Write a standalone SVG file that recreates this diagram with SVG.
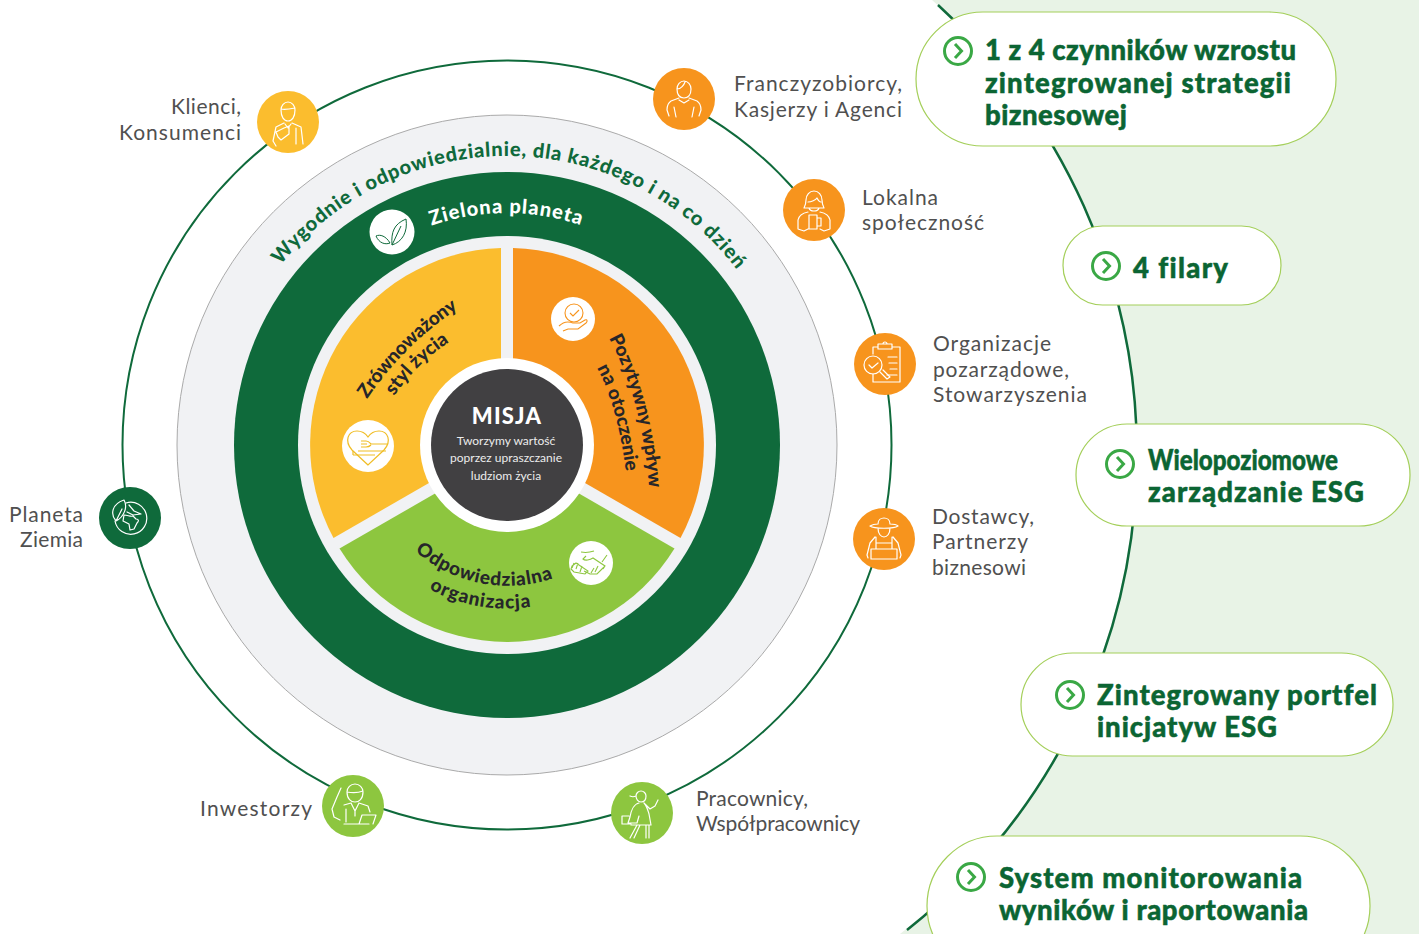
<svg xmlns="http://www.w3.org/2000/svg" width="1419" height="934" viewBox="0 0 1419 934">
<style>
text{font-variant-ligatures:none}
.lab{font-family:"Lato","Liberation Sans",sans-serif;font-size:21px;fill:#505050}
.h{font-family:"Lato","Liberation Sans",sans-serif;font-weight:900;font-size:27.5px;fill:#0b6533;stroke:#0b6533;stroke-width:.5}
.pill{fill:#fff;stroke:#a4cf5a;stroke-width:1.2}
.ar{fill:none;stroke:#3aa845;stroke-width:3}
.ic{fill:none;stroke:#fff;stroke-width:1.2;stroke-linecap:round;stroke-linejoin:round}
.icg{fill:none;stroke:#0f6a3b;stroke-width:1}
.seg{font-family:"Lato","Liberation Sans",sans-serif;font-weight:900;font-size:19px;fill:#26262a}
.yel{fill:#fbbd2e}.ora{fill:#f7941d}.gre{fill:#8dc63f}.dk{fill:#0f6a3b}
</style>
<defs>
<g id="chev"><circle r="13.5" class="ar"/><path d="M-3,-7 L3.5,0 L-3,7" class="ar"/></g>
<path id="p1" d="M280.8,265.1 A289,289 0 0 1 757.3,300.5"/>
<path id="p2" d="M427.7,227 A232,232 0 0 1 605,235"/>
<path id="p3" d="M367,399 Q403,346 456,310"/>
<path id="p4" d="M394,396 Q418,362 451,341"/>
<path id="p5" d="M609,338 Q642,400 649,486"/>
<path id="p6" d="M597,368 Q620,410 628,490"/>
<path id="p7" d="M415,551 A140,140 0 0 0 566,573"/>
<path id="p8" d="M429,589 A163,163 0 0 0 540,605"/>
</defs>
<rect width="1419" height="934" fill="#fff"/>
<path d="M932,0 A607,607 0 0 1 900,934 L1419,934 L1419,0 Z" fill="#e8f3e6"/>
<g id="connectors" fill="none" stroke="#0f6a3b" stroke-width="2">
<circle cx="507" cy="445" r="384.5"/>
<path d="M938,5 A607,607 0 0 1 907,930" stroke-width="2.5"/>
</g>
<g id="rings">
<circle cx="507" cy="445" r="330" fill="#f1f2f4" stroke="#aaa" stroke-width="1"/>
<circle cx="507" cy="445" r="273" class="dk"/>
<circle cx="507" cy="445" r="209" fill="#f1f2f4"/>
</g>
<g id="arc-labels" font-family="Lato,'Liberation Sans',sans-serif" font-weight="900">
<text font-size="20" fill="#0f6a3b" letter-spacing="0.8"><textPath href="#p1">Wygodnie i odpowiedzialnie, dla każdego i na co dzień</textPath></text>
<text font-size="20" fill="#fff" letter-spacing="1"><textPath href="#p2" startOffset="4">Zielona planeta</textPath></text>
</g>
<g id="seg-yellow">
<path class="yel" d="M501,441.5 L501,248 A197,197 0 0 0 333.5,538 Z"/>
<text class="seg" letter-spacing="-.2"><textPath href="#p3">Zrównoważony</textPath></text>
<text class="seg"><textPath href="#p4">styl życia</textPath></text>
<circle cx="368" cy="446" r="26" fill="#fff"/>
<g fill="none" stroke="#f0bd25" stroke-width="1.2"><path d="M368,465 L352,450 C344,441 348,431 357,431 C362,431 366,434 368,437 C370,434 374,431 379,431 C388,431 392,441 384,450 Z"/><path d="M361,441 h5 c3,0 4,2 5,3 h16 M361,444 h6 M361,447 h5 c3,0 4,-1 5,-2 M358,451 h28 M353,455 h22 M353,451 v4"/></g>
</g>
<g id="seg-orange">
<path class="ora" d="M513,441.5 L513,248 A197,197 0 0 1 680.5,538 Z"/>
<text class="seg"><textPath href="#p5">Pozytywny wpływ</textPath></text>
<text class="seg"><textPath href="#p6">na otoczenie</textPath></text>
<circle cx="573" cy="319" r="22" fill="#fff"/>
<g fill="none" stroke="#f7941d" stroke-width="1.1"><circle cx="574" cy="313" r="9"/><path d="M570,313 l3,3 6,-6 M559,326 c5,-5 9,-5 14,-3 h7 l5,-3 c2,-1 3,1 1,3 l-8,6 h-10 l-5,2"/></g>
</g>
<g id="seg-green">
<path class="gre" d="M507,452 L339.5,548.6 A197,197 0 0 0 674.5,548.6 Z"/>
<text class="seg" letter-spacing=".7"><textPath href="#p7">Odpowiedzialna</textPath></text>
<text class="seg" letter-spacing=".9"><textPath href="#p8">organizacja</textPath></text>
<circle cx="591" cy="563" r="22" fill="#fff"/>
<g fill="none" stroke="#8dc63f" stroke-width="1.1"><path d="M581,552 c5,1 10,0 13,-1 M586,556 l-3,3 c2,2 7,1 10,-1 l12,8 -2,3 M607,555 l-5,7 M604,567 l-7,7 -7,0 -6,-3 M572,566 l4,-3 12,8 -3,3 -11,-2 -3,-3 Z M574,563 l-2,5 M578,563 l-2,6 M582,566 l-2,6 M594,568 l-3,5 M598,566 l-3,6"/></g>
</g>
<g id="mission">
<circle cx="507" cy="445" r="87" fill="#fff"/>
<circle cx="507" cy="445" r="76" fill="#414042"/>
<g text-anchor="middle" font-family="Lato,'Liberation Sans',sans-serif" fill="#ececec">
<text x="507" y="424" font-size="22" font-weight="900" fill="#fff" letter-spacing="1.2">MISJA</text>
<text x="506" y="445" font-size="12">Tworzymy wartość</text>
<text x="506" y="462" font-size="12">poprzez upraszczanie</text>
<text x="506" y="480" font-size="12">ludziom życia</text>
</g>
</g>
<g id="leaf"><circle cx="392" cy="232" r="22.5" fill="#fff"/><g class="icg"><path d="M392,245 C391,232 394,224 406,219 C408,232 402,242 392,245 Z M392,245 L401,226 M390,243 C386,236 380,234 376,236 C379,243 385,245 390,243 Z"/></g></g>
<g id="n-klienci" transform="translate(288,122)"><circle r="31" class="yel"/><g class="ic"><path d="M-7,-12 a7,8 0 0 1 14,0 c0,7 -3,11 -7,11 s-7,-4 -7,-11 Z M-7,-13 c4,1 9,0 14,-1 M-4,1 l-8,4 -3,14 3,5 M4,1 l9,4 2,17 M8,6 v16 M-12,10 l8,-4 5,-2 v8 l-8,6 -3,-3 Z M-3,2 l3,4 3,-4"/></g></g>
<g id="n-franczyza" transform="translate(684,99)"><circle r="31" class="ora"/><g class="ic"><path d="M-7,-10 a7,8 0 0 1 14,0 c0,6 -3,9 -7,9 s-7,-3 -7,-9 Z M-7,-10 c4,0 7,-4 8,-7 M-5,-1 l-8,3 c-3,2 -4,6 -4,9 l2,6 M5,-1 l8,3 c3,2 4,6 4,9 l-2,6 M-5,1 l5,3 5,-3 M-10,8 l2,10 M10,8 l-2,10"/></g></g>
<g id="n-lokalna" transform="translate(814,210)"><circle r="31" class="ora"/><g class="ic"><path d="M-8,-10 a8,9 0 0 1 16,0 c0,4 1,6 2,8 h-20 c1,-2 2,-4 2,-8 Z M-6,-8 c3,0 8,-2 9,-4 c1,2 3,4 4,4 M-5,-2 c1,4 9,4 10,0 M-6,2 c-5,1 -9,3 -10,8 l0,9 6,2 4,-2 M6,2 c5,1 9,3 10,8 v9 l-6,2 -4,-2 M-5,5 h8 v14 h-8 Z M3,8 h4 v8 h-4"/></g></g>
<g id="n-organizacje" transform="translate(885,364)"><circle r="31" class="ora"/><g class="ic"><path d="M-12,-10 v-7 h5 M7,-17 h8 v35 h-27 v-8 M-7,-20 h14 v5 h-14 Z M-2,-20 a2,2 0 0 1 4,0 M3,-7 h9 M4,-1 h8 M5,5 h7 M2,11 h10"/><circle cx="-12" cy="1" r="9"/><path d="M-16,1 l3,3 6,-5 M-5,8 l7,7 3,-2 -7,-7"/></g></g>
<g id="n-dostawcy" transform="translate(884,539)"><circle r="31" class="ora"/><g class="ic"><path d="M-14,-13 c3,-2 6,-2 8,-2 c0,-8 12,-8 12,0 c3,0 6,0 8,2 c-4,3 -24,3 -28,0 Z M-6,-11 c0,12 12,12 12,0 M-9,-2 l-5,6 -3,12 1,3 M9,-2 l5,6 3,12 -1,3 M-8,-2 v12 M8,-2 v12 M-8,4 h16 M-13,10 h26 v10 h-26 Z"/></g></g>
<g id="n-planeta" transform="translate(130,518)"><circle r="31" class="dk"/><g class="ic"><path d="M-4,-15 A16,16 0 1 1 -15,3"/><path d="M-1,-13 l5,6 7,3 -8,1 -6,-3 M-6,-3 c4,0 6,2 9,1 l3,3 c3,0 3,2 1,4 l-3,6 -4,1 -1,-6 -6,-3 Z"/><path d="M-14,3 C-20,-4 -18,-14 -6,-18 C-2,-11 -6,-1 -14,3 Z M-14,3 L-8,-9"/></g></g>
<g id="n-inwestorzy" transform="translate(353,806)"><circle r="31" class="gre"/><g class="ic"><path d="M-6,-14 a8,8 0 0 1 16,0 c0,7 -4,10 -8,10 s-8,-3 -8,-10 Z M-6,-14 c5,1 11,1 16,-1 M-12,-18 l-4,9 -5,12 2,8 6,3 M-2,-3 l4,8 4,-8 M-9,-1 l7,-2 M6,-3 l9,3 2,6 M-7,3 v13 M2,5 v5 M-9,18 h25 M6,18 l3,-9 h14 l-3,9"/></g></g>
<g id="n-pracownicy" transform="translate(642,813)"><circle r="31" class="gre"/><g class="ic"><path d="M-6,-17 a5,5 0 0 1 10,0 c0,4 -2,6 -5,6 s-5,-3 -5,-6 Z M-6,-17 c-2,1 -4,1 -6,0 M-3,-10 c-5,1 -8,8 -9,14 l-2,6 h9 l2,-7 M2,-10 c3,3 4,8 5,11 l2,11 h-18 l-2,0 M3,-9 l5,5 5,-3 l3,-6 M-13,3 h-7 v8 h9 M-5,12 l-7,13 M-2,12 l-6,13 M4,12 v13 M7,12 v13"/></g></g>
<g id="labels">
<text class="lab" x="171" y="114" textLength="70">Klienci,</text>
<text class="lab" x="119" y="140" textLength="122">Konsumenci</text>
<text class="lab" x="734" y="91" textLength="168">Franczyzobiorcy,</text>
<text class="lab" x="734" y="117" textLength="168">Kasjerzy i Agenci</text>
<text class="lab" x="862" y="205" textLength="76">Lokalna</text>
<text class="lab" x="862" y="230" textLength="122">społeczność</text>
<text class="lab" x="933" y="351" textLength="118">Organizacje</text>
<text class="lab" x="933" y="377" textLength="136">pozarządowe,</text>
<text class="lab" x="933" y="402" textLength="154">Stowarzyszenia</text>
<text class="lab" x="932" y="524" textLength="102">Dostawcy,</text>
<text class="lab" x="932" y="549" textLength="96">Partnerzy</text>
<text class="lab" x="932" y="575" textLength="94">biznesowi</text>
<text class="lab" x="9" y="522" textLength="74">Planeta</text>
<text class="lab" x="20" y="547" textLength="63">Ziemia</text>
<text class="lab" x="200" y="816" textLength="112">Inwestorzy</text>
<text class="lab" x="696" y="806" textLength="112">Pracownicy,</text>
<text class="lab" x="696" y="831" textLength="164">Współpracownicy</text>
</g>
<g id="pill-1"><rect class="pill" x="916" y="12" width="420" height="134" rx="67"/><use href="#chev" x="958" y="51"/>
<text class="h" x="985" y="60" textLength="311">1 z 4 czynników wzrostu</text><text class="h" x="985" y="93" textLength="306">zintegrowanej strategii</text><text class="h" x="985" y="125" textLength="142">biznesowej</text></g>
<g id="pill-2"><rect class="pill" x="1063" y="226" width="218" height="79" rx="39.5"/><use href="#chev" x="1106" y="266"/>
<text class="h" x="1133" y="278" textLength="95">4 filary</text></g>
<g id="pill-3"><rect class="pill" x="1076" y="424" width="334" height="102" rx="51"/><use href="#chev" x="1120" y="464"/>
<text class="h" x="1148" y="470" textLength="190" lengthAdjust="spacingAndGlyphs">Wielopoziomowe</text><text class="h" x="1148" y="502" textLength="216">zarządzanie ESG</text></g>
<g id="pill-4"><rect class="pill" x="1021" y="653" width="372" height="103" rx="51.5"/><use href="#chev" x="1070" y="695"/>
<text class="h" x="1097" y="705" textLength="280">Zintegrowany portfel</text><text class="h" x="1097" y="737" textLength="180">inicjatyw ESG</text></g>
<g id="pill-5"><rect class="pill" x="927" y="836" width="443" height="140" rx="70"/><use href="#chev" x="971" y="877"/>
<text class="h" x="999" y="888" textLength="303">System monitorowania</text><text class="h" x="999" y="920" textLength="309">wyników i raportowania</text></g>
</svg>
